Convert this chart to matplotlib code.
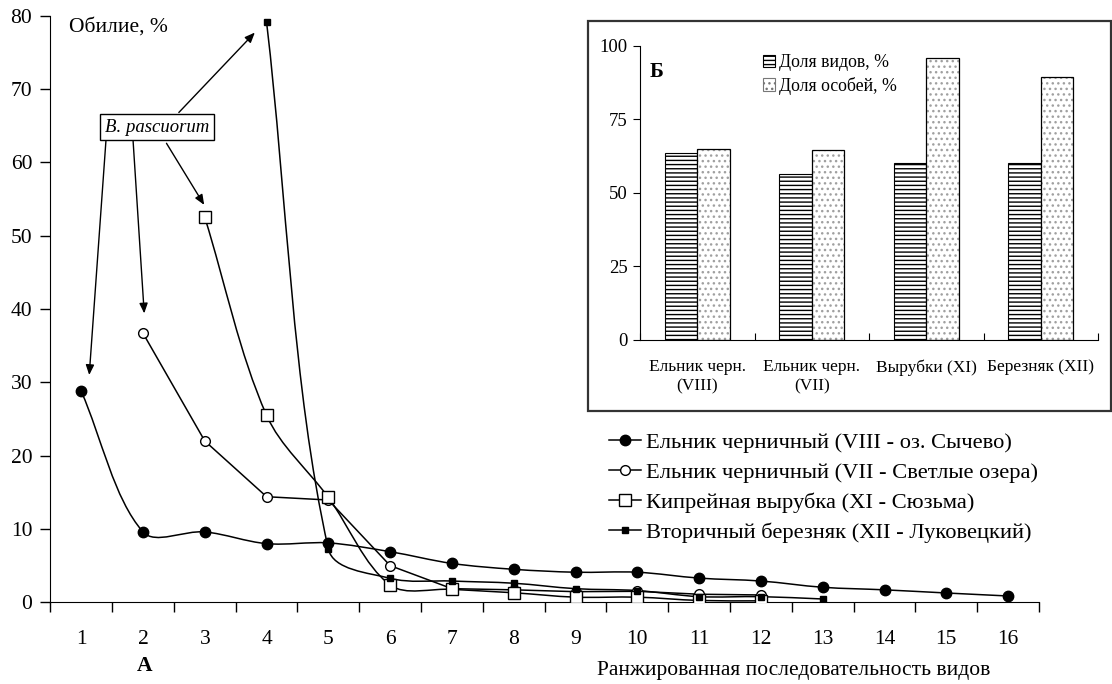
import numpy as np
import matplotlib
matplotlib.use("Agg")
import matplotlib.pyplot as plt
from matplotlib.path import Path
from matplotlib.patches import PathPatch, Rectangle

plt.rcParams['font.family'] = ['Liberation Serif', 'DejaVu Serif']

# main chart: abundance by rank
ranks = list(range(1, 17))
s1 = [28.8, 9.6, 9.6, 8.0, 8.1, 6.9, 5.3, 4.5, 4.1, 4.1, 3.3, 2.9, 2.05, 1.7, 1.27, 0.86]
s2 = [36.7, 22.0, 14.4, 13.95, 5.0, 1.86, 1.7, 1.45, 1.5, 1.1, 1.0]
s3 = [52.5, 25.5, 14.3, 2.36, 1.77, 1.3, 0.7, 0.7, 0.25, 0.2]
s4 = [79.1, 7.27, 3.27, 2.9, 2.6, 1.86, 1.6, 0.77, 0.77, 0.45]
x1 = ranks
x2 = ranks[1:12]
x3 = ranks[2:12]
x4 = ranks[3:13]
labels = ['Ельник черничный (VIII - оз. Сычево)',
          'Ельник черничный (VII - Светлые озера)',
          'Кипрейная вырубка (XI - Сюзьма)',
          'Вторичный березняк (XII - Луковецкий)']

# inset: shares
inset_cats = ['Ельник черн.\n(VIII)', 'Ельник черн.\n(VII)', 'Вырубки (XI)', 'Березняк (XII)']
share_species = [63.6, 56.3, 60.0, 60.0]
share_indiv = [65.0, 64.6, 95.7, 89.2]

W, H = 1112, 684
fig = plt.figure(figsize=(W / 100, H / 100), dpi=100)
ax = fig.add_axes([50.3 / W, 1 - 602.3 / H, (1039 - 50.3) / W, (602.3 - 15.7) / H])
ax.set_xlim(0.5, 16.5)
ax.set_ylim(0, 80)


def smooth_path(xs, ys, t=1.0 / 3):
    # excel-like smoothing, tangents weighted by segment lengths in pixels
    pts = np.column_stack([xs, ys]).astype(float)
    disp = ax.transData.transform(pts)
    n = len(pts)
    verts = [pts[0]]
    codes = [Path.MOVETO]
    for i in range(n - 1):
        p0, p1 = pts[i], pts[i + 1]
        d0, d1 = disp[i], disp[i + 1]
        pm = pts[i - 1] if i > 0 else p0
        dm = disp[i - 1] if i > 0 else d0
        pp = pts[i + 2] if i + 2 < n else p1
        dp = disp[i + 2] if i + 2 < n else d1
        la = np.hypot(*(d0 - dm))
        lb = np.hypot(*(d1 - d0))
        lc = np.hypot(*(dp - d1))
        c1 = p0 + t * (p1 - pm) * lb / (la + lb)
        c2 = p1 - t * (pp - p0) * lb / (lb + lc)
        verts += [c1, c2, p1]
        codes += [Path.CURVE4] * 3
    return Path(verts, codes)


# (x, y, marker, face, size, smoothed)
series = [(x1, s1, 'o', 'black', 7.5, True), (x2, s2, 'o', 'white', 7.0, False),
          (x3, s3, 's', 'white', 8.0, True), (x4, s4, 's', 'black', 4.5, True)]
handles = []
for (xs, ys, mk, fc, ms, sm), lab in zip(series, labels):
    if sm:
        ax.add_patch(PathPatch(smooth_path(xs, ys), fill=False, lw=1.1, ec='black', zorder=2))
    else:
        ax.plot(xs, ys, color='black', lw=1.1, zorder=2)
    ax.plot(xs, ys, ls='none', marker=mk, mfc=fc, mec='black', ms=ms, mew=1.0, zorder=3)
    h, = ax.plot([], [], color='black', lw=1.1, marker=mk, mfc=fc, mec='black', ms=ms, mew=1.0)
    handles.append(h)

ax.spines['top'].set_visible(False)
ax.spines['right'].set_visible(False)
ax.set_xticks(np.arange(0.5, 17, 1))
ax.set_xticklabels([])
ax.set_xticks(ranks, minor=True)
ax.set_xticklabels([str(r) for r in ranks], minor=True, fontsize=15.5)
ax.tick_params(axis='x', which='major', direction='out', length=7, width=1)
ax.tick_params(axis='x', which='minor', length=0, pad=20)
ax.set_yticks(range(0, 81, 10))
ax.tick_params(axis='y', direction='out', length=7, width=1, labelsize=15.5, pad=6)

ax.text(0.8, 78.5, 'Обилие, %', fontsize=15.5, va='center', ha='left')
ax.text(2.03, -8.7, 'А', fontsize=15.5, fontweight='bold', ha='center', va='center', clip_on=False)
fig.text(794 / W, 1 - 670 / H, 'Ранжированная последовательность видов', fontsize=15.5,
         ha='center', va='center')

ax.text(2.23, 64.8, 'B. pascuorum', fontsize=13.5, style='italic', ha='center', va='center',
        bbox=dict(boxstyle='square,pad=0.25', fc='white', ec='black', lw=1.0), zorder=5)
arrows = [((1.40, 62.9), (1.13, 31.0)), ((1.84, 62.9), (2.02, 39.4)),
          ((2.38, 62.6), (2.99, 54.2)), ((2.58, 66.8), (3.81, 77.7))]
for start, tip in arrows:
    ax.annotate('', xy=tip, xytext=start,
                arrowprops=dict(arrowstyle='-|>,head_length=0.6,head_width=0.25', color='black', lw=1.0,
                                shrinkA=0, shrinkB=0), zorder=4)

fig.legend(handles, labels, loc='upper left', bbox_to_anchor=(609 / W, 1 - 432 / H),
           frameon=False, fontsize=16.2, handlelength=1.4, handletextpad=0.25,
           labelspacing=0.42, borderpad=0, borderaxespad=0)

# inset frame
fig.patches.append(Rectangle((588.3 / W, 1 - 410.7 / H), (1111 - 588.3) / W, (410.7 - 20.7) / H,
                             transform=fig.transFigure, fill=False, ec='#333333', lw=1.6, zorder=0))

ins = fig.add_axes([640 / W, 1 - 340 / H, (1098 - 640) / W, (340 - 45.6) / H])
xi = np.arange(len(inset_cats))
bw = 0.2855
ins.bar(xi - bw / 2, share_species, bw, color='white', edgecolor='black', hatch='----', lw=0.8)
ins.bar(xi + bw / 2, share_indiv, bw, color='white', edgecolor='#a0a0a0', hatch='...', lw=0)
ins.bar(xi + bw / 2, share_indiv, bw, color='none', edgecolor='black', lw=0.9)
ins.set_xlim(-0.5, len(inset_cats) - 0.5)
ins.set_ylim(0, 100)
ins.set_yticks([0, 25, 50, 75, 100])
ins.set_xticks(np.arange(-0.5, len(inset_cats), 1))
ins.set_xticklabels([])
ins.set_xticks(xi, minor=True)
ins.set_xticklabels(inset_cats, minor=True, fontsize=12.5, linespacing=1.25)
ins.tick_params(axis='x', which='major', direction='in', length=5)
ins.tick_params(axis='x', which='minor', length=0, pad=14)
ins.tick_params(axis='y', direction='out', length=5, labelsize=13.5, pad=4)
ins.spines['top'].set_visible(False)
ins.spines['right'].set_visible(False)
ins.text(0.02, 0.911, 'Б', transform=ins.transAxes, fontsize=15, fontweight='bold', va='center')

leg_h = [Rectangle((0, 0), 1, 1, fc='white', ec='black', hatch='----', lw=0.8),
         Rectangle((0, 0), 1, 1, fc='white', ec='#777777', hatch='...', lw=0.8)]
ins.legend(leg_h, ['Доля видов, %', 'Доля особей, %'], loc='upper left',
           bbox_to_anchor=(0.268, 0.97), frameon=False, fontsize=12.8, handlelength=0.7,
           handleheight=0.7, handletextpad=0.2, labelspacing=0.3, borderpad=0, borderaxespad=0)

fig.savefig('out.png', dpi=100)
